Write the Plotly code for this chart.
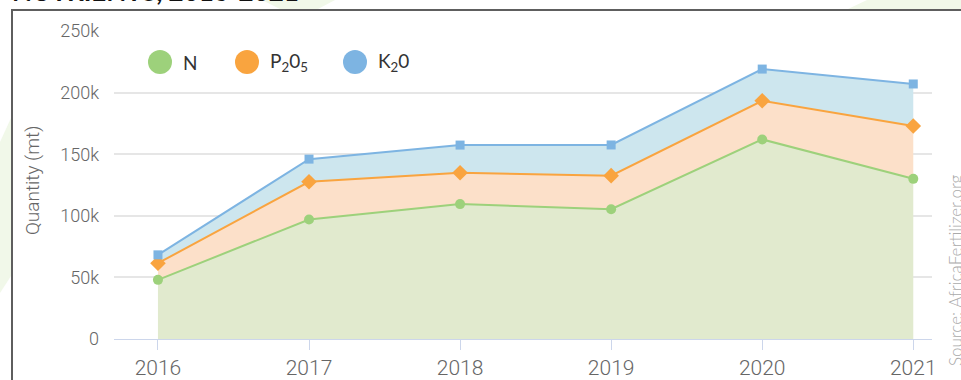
import plotly.graph_objects as go

# Fertilizer nutrient consumption by year (metric tonnes)
years = [2016, 2017, 2018, 2019, 2020, 2021]
n_mt = [48000, 97000, 109500, 105300, 162000, 130000]
p2o5_mt = [13500, 30600, 25400, 27300, 31400, 42900]
k2o_mt = [6800, 18400, 22500, 24900, 25700, 34100]

y_ticks = [0, 50000, 100000, 150000, 200000, 250000]
y_tick_text = ["0", "50k", "100k", "150k", "200k", "250k"]

W, H = 961, 380
ML, MR, MT, MB = 114, 29, 31, 41
PW, PH = W - ML - MR, H - MT - MB


def px(x):
    """Pixel x -> paper x."""
    return (x - ML) / PW


def py(y):
    """Pixel y -> paper y."""
    return (H - MB - y) / PH


THIN = "Roboto, Liberation Sans, sans-serif"
SANS = "Lato, Open Sans, sans-serif"

series = [
    ("N", n_mt, "#9dd17b", "rgba(225,234,206,1)", "circle", 10),
    ("P<sub>2</sub>0<sub>5</sub>", p2o5_mt, "#f9a43f", "rgba(252,224,201,1)", "diamond", 12),
    ("K<sub>2</sub>0", k2o_mt, "#7db4e2", "rgba(205,230,238,1)", "square", 9),
]

fig = go.Figure()
for name, vals, col, fillc, sym, size in series:
    fig.add_trace(go.Scatter(
        x=years, y=vals, name=name, stackgroup="nutrients",
        mode="lines+markers",
        line=dict(color=col, width=2),
        marker=dict(color=col, symbol=sym, size=size),
        fillcolor=fillc,
        hoverinfo="skip",
        showlegend=False,
    ))


def poly(points):
    return "M " + " L ".join(f"{px(x)},{py(y)}" for x, y in points) + " Z"


shapes = []
# faint decorative background shapes
for pts in ([(848, 9), (867, 0), (970, 0), (970, 9)],
            [(262, 0), (335, 0), (318, 9), (280, 9)],
            [(0, 142), (11, 118), (11, 276), (0, 293)]):
    shapes.append(dict(type="path", xref="paper", yref="paper", path=poly(pts),
                       fillcolor="#f1f8e9", line=dict(width=0), layer="below"))
# white panel inside frame
shapes.append(dict(type="rect", xref="paper", yref="paper",
                   x0=px(12), x1=px(975), y0=py(395), y1=py(10),
                   fillcolor="white", line=dict(width=0), layer="below"))
# frame border
shapes.append(dict(type="line", xref="paper", yref="paper",
                   x0=px(12), x1=px(12), y0=py(9), y1=py(395),
                   line=dict(color="#5e5e5e", width=2), layer="above"))
shapes.append(dict(type="line", xref="paper", yref="paper",
                   x0=px(11), x1=px(975), y0=py(10), y1=py(10),
                   line=dict(color="#5e5e5e", width=2), layer="above"))

annotations = []
# legend
legend_items = [(160, 181, series[0]), (247, 268, series[1]), (355, 376, series[2])]
for cx, tx, (name, _v, col, _f, _s, _z) in legend_items:
    shapes.append(dict(type="circle", xref="paper", yref="paper",
                       xsizemode="pixel", ysizemode="pixel",
                       xanchor=px(cx), yanchor=py(62),
                       x0=-12, x1=12, y0=-12, y1=12,
                       fillcolor=col, line=dict(width=0)))
    annotations.append(dict(xref="paper", yref="paper", x=px(tx), y=py(62),
                            xanchor="left", yanchor="middle", showarrow=False,
                            text=name, font=dict(family=SANS, size=19, color="#333333")))

annotations.append(dict(xref="paper", yref="paper", x=px(32), y=py(181),
                        xanchor="center", yanchor="middle", showarrow=False,
                        textangle=-90, text="Quantity (mt)",
                        font=dict(family=THIN, size=19, color="#666666", weight=300)))
annotations.append(dict(xref="paper", yref="paper", x=px(955), y=py(172),
                        xanchor="center", yanchor="top", showarrow=False,
                        textangle=-90, text="Source: AfricaFertilizer.org",
                        font=dict(family=SANS, size=17, color="#aaaaaa", weight=300)))

fig.update_layout(
    width=W, height=H,
    margin=dict(l=ML, r=MR, t=MT, b=MB, autoexpand=False),
    paper_bgcolor="white", plot_bgcolor="white",
    title=dict(text="<b>NUTRIENTS, 2016-2021</b>", xref="container", yref="container",
               x=12 / W, xanchor="left", y=1 - 1 / H, yanchor="bottom",
               pad=dict(t=0, b=0, l=0, r=0),
               font=dict(family=SANS, size=26, color="#111111")),
    shapes=shapes, annotations=annotations,
    showlegend=False,
    xaxis=dict(
        range=[2015.709, 2021.124], tickvals=years, ticktext=[str(y) for y in years],
        showgrid=False, zeroline=False,
        showline=True, linecolor="#ccd6eb", linewidth=1,
        ticks="outside", ticklen=10, tickcolor="#ccd6eb", tickwidth=1,
        tickfont=dict(family=THIN, size=21, color="#666666", weight=300),
    ),
    yaxis=dict(
        range=[0, 250000], tickvals=y_ticks, ticktext=y_tick_text,
        showgrid=True, gridcolor="#e6e6e6", gridwidth=2,
        zeroline=False, showline=False, ticks="",
        ticklabelstandoff=14,
        tickfont=dict(family=THIN, size=18, color="#666666", weight=300),
    ),
)

fig.write_html("out.html")
